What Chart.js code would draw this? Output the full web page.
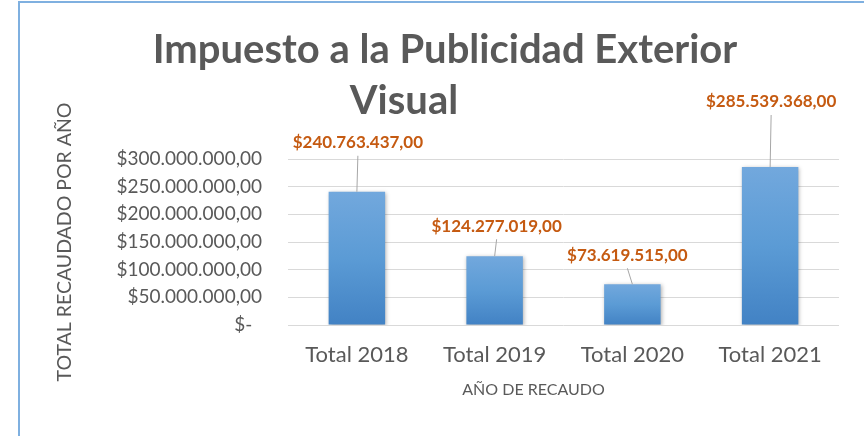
<!DOCTYPE html>
<html>
<head>
  <title>Impuesto a la Publicidad Exterior Visual</title>
  <script src="https://cdn.jsdelivr.net/npm/chart.js"></script>
  <style>
    body { margin: 0; background: #fff; }
    #wrap { position: relative; width: 864px; height: 436px; overflow: hidden; }
    #frame { position: absolute; left: 18px; top: 1px; width: 900px; height: 500px;
             border-left: 2px solid #7fb0e0; border-top: 2px solid #7fb0e0; pointer-events: none; }
  </style>
</head>
<body>
  <div id="wrap">
    <canvas id="chart" width="864" height="436"></canvas>
    <div id="frame"></div>
  </div>

  <script>
    // values
    const categories = ['Total 2018', 'Total 2019', 'Total 2020', 'Total 2021'];
    const recaudo = [240763437, 124277019, 73619515, 285539368];
    const yMax = 300000000;
    const yStep = 50000000;

    const titleLines = ['Impuesto a la Publicidad Exterior', 'Visual'];
    const yTitle = 'TOTAL RECAUDADO POR AÑO';
    const xTitle = 'AÑO DE RECAUDO';

    // label offsets from the top of each bar (px)
    const labelOffsets = [[1, -49], [2, -30], [-5, -29], [1, -65]];

    const grey = '#595959';

    function pesos(v) {
      if (v === 0) return '$-  ';
      return '$' + String(Math.round(v)).replace(/\B(?=(\d{3})+(?!\d))/g, '.') + ',00';
    }

    Chart.defaults.font.family = 'Lato';
    Chart.defaults.color = grey;

    const textPlugin = {
      id: 'texts',
      afterDraw(chart) {
        const ctx = chart.ctx;
        const area = chart.chartArea;
        ctx.save();
        ctx.fillStyle = grey;
        ctx.textAlign = 'center';
        ctx.textBaseline = 'alphabetic';
        ctx.font = 'bold 40px Lato';
        ctx.fillText(titleLines[0], 445, 63);
        ctx.fillText(titleLines[1], 404, 114);
        ctx.font = '16px Lato';
        ctx.textBaseline = 'middle';
        ctx.fillText(xTitle, (area.left + area.right) / 2 - 30, 390);
        ctx.restore();
      }
    };

    const shadowPlugin = {
      id: 'barShadow',
      beforeDatasetDraw(chart) {
        const ctx = chart.ctx;
        ctx.save();
        ctx.shadowColor = 'rgba(0,0,0,0.3)';
        ctx.shadowBlur = 4;
        ctx.shadowOffsetX = 1;
        ctx.shadowOffsetY = 1;
      },
      afterDatasetDraw(chart) {
        chart.ctx.restore();
      }
    };

    const labelPlugin = {
      id: 'barLabels',
      afterDatasetsDraw(chart) {
        const ctx = chart.ctx;
        const meta = chart.getDatasetMeta(0);
        ctx.save();
        meta.data.forEach((el, i) => {
          const [dx, dy] = labelOffsets[i];
          const lx = el.x + dx;
          const ly = el.y + dy;
          ctx.strokeStyle = '#a6a6a6';
          ctx.lineWidth = 1;
          ctx.beginPath();
          ctx.moveTo(lx, ly + 13);
          ctx.lineTo(el.x, el.y);
          ctx.stroke();
          ctx.fillStyle = '#c55a11';
          ctx.font = 'bold 17px Lato';
          ctx.textAlign = 'center';
          ctx.textBaseline = 'middle';
          ctx.fillText(pesos(recaudo[i]), lx, ly);
        });
        ctx.restore();
      }
    };

    function barFill(c) {
      const chart = c.chart;
      const ys = chart.scales.y;
      if (c.type !== 'data' || !ys) return '#5b9bd5';
      const top = ys.getPixelForValue(c.parsed.y);
      const base = ys.getPixelForValue(0);
      if (!isFinite(top) || !isFinite(base)) return '#5b9bd5';
      const g = chart.ctx.createLinearGradient(0, top, 0, base);
      g.addColorStop(0, '#72a8dd');
      g.addColorStop(0.5, '#5b9bd5');
      g.addColorStop(1, '#4282c4');
      return g;
    }

    new Chart(document.getElementById('chart').getContext('2d'), {
      type: 'bar',
      data: {
        labels: categories,
        datasets: [{
          label: 'Recaudo',
          data: recaudo,
          backgroundColor: barFill,
          borderWidth: 0,
          barPercentage: 0.41,
          categoryPercentage: 1
        }]
      },
      options: {
        responsive: false,
        animation: false,
        layout: { padding: { top: 159, right: 25, bottom: 0, left: 0 } },
        plugins: {
          legend: { display: false },
          tooltip: { enabled: false }
        },
        scales: {
          x: {
            grid: { display: false, drawTicks: false },
            border: { display: false },
            ticks: { padding: 17, font: { size: 22 }, color: grey },
            afterFit: s => { s.height = 111; }
          },
          y: {
            min: 0,
            max: yMax,
            afterFit: s => { s.width = 288; },
            grid: { color: '#d9d9d9', lineWidth: 1, drawTicks: false },
            border: { display: false },
            ticks: {
              stepSize: yStep,
              padding: 26,
              font: { size: 19 },
              color: grey,
              callback: v => pesos(v)
            },
            title: {
              display: true,
              text: yTitle,
              color: grey,
              font: { size: 19.5 },
              padding: { top: 53, bottom: 0 }
            }
          }
        }
      },
      plugins: [textPlugin, shadowPlugin, labelPlugin]
    });
  </script>
</body>
</html>
